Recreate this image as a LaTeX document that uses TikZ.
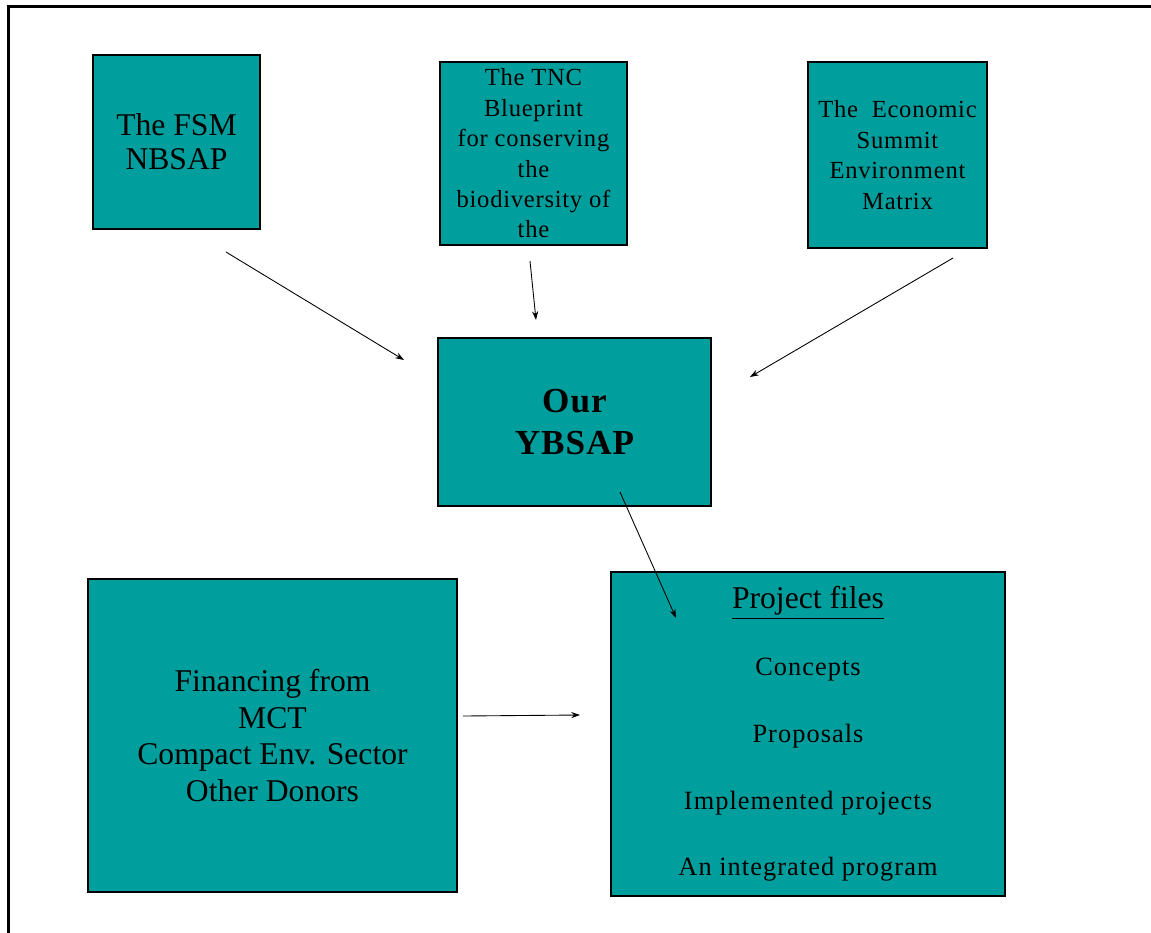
\documentclass[tikz,border=0pt]{standalone}
\usepackage{fontspec}
\setmainfont{Liberation Serif}
\newfontfamily\spacedfont[LetterSpace=3]{Liberation Serif}
\newfontfamily\widefont[LetterSpace=4]{Liberation Serif}
\usepackage{tikz}
\usepackage{xcolor}
\usetikzlibrary{arrows.meta, positioning, calc}

\definecolor{teal}{RGB}{0,158,156}

\begin{document}
\begin{tikzpicture}[
    x=0.2mm, y=-0.2mm,
    box/.style={rectangle, draw=black, line width=0.6pt, fill=teal, inner sep=0pt, outer sep=0pt, align=center},
    arrow/.style={-{Stealth[length=5pt, width=3.5pt]}, line width=0.5pt},
]
\useasboundingbox (0,0) rectangle (1151,933);

% Frame
\draw[line width=1.7pt] (8.5,933) -- (8.5,6.5) -- (1151,6.5);

% Sources
\node[box, minimum width=33.4mm, minimum height=34.8mm, font=\fontsize{18}{19.5}\selectfont] (fsm) at (176.5,142) {The FSM\\NBSAP};

\node[box, minimum width=37.4mm, minimum height=36.6mm, font=\spacedfont\fontsize{14}{17.3}\selectfont] (tnc) at (533.5,153.5) {
    The TNC\\
    Blueprint\\
    for conserving\\
    the\\
    biodiversity of\\
    the
};

\node[box, minimum width=35.8mm, minimum height=37.2mm, font=\spacedfont\fontsize{14}{17.3}\selectfont] (summit) at (897.5,155) {
    The\ \ Economic\\
    Summit\\
    Environment\\
    Matrix
};

% Plan
\node[box, minimum width=54.6mm, minimum height=33.6mm, font=\spacedfont\bfseries\fontsize{20}{24}\selectfont] (ybsap) at (574.5,422) {Our\\YBSAP};

% Financing
\node[box, minimum width=73.8mm, minimum height=62.6mm, font=\fontsize{18}{21}\selectfont] (finance) at (272.5,735.5) {
    Financing from\\
    MCT\\
    Compact Env. Sector\\
    Other Donors
};

% Projects
\node[box, minimum width=78.8mm, minimum height=64.8mm, font=\widefont\fontsize{15}{18}\selectfont] (projects) at (808,734) {
    {\normalfont\fontsize{18}{19.5}\selectfont\underline{Project files}}\\[20pt]
    Concepts\\[20pt]
    Proposals\\[20pt]
    Implemented projects\\[20pt]
    An integrated program
};

% Arrows
\draw[arrow] ($(fsm.south)+(49.5,23)$) -- ($(ybsap.north west)+(-34,22)$);
\draw[arrow] ($(tnc.south)+(-3.5,16)$) -- ($(ybsap.north)+(-38.5,-18)$);
\draw[arrow] ($(summit.south)+(55.5,10)$) -- ($(ybsap.north east)+(39,39)$);
\draw[arrow] ($(ybsap.south)+(45.5,-14)$) -- ($(projects.north west)+(65,46)$);
\draw[arrow] ($(finance.east)+(6,-19.5)$) -- ($(projects.west)+(-31,-19)$);

\end{tikzpicture}
\end{document}
